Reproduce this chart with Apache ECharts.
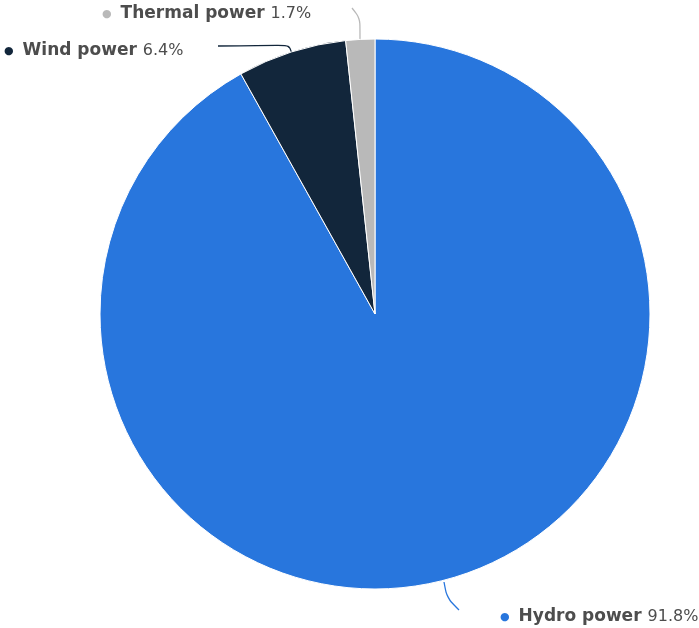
<!DOCTYPE html>
<html>
<head>
<meta charset="utf-8">
<script src="https://cdn.jsdelivr.net/npm/echarts@6/dist/echarts.min.js"></script>
<style>
  html, body { margin: 0; padding: 0; background: #fff; }
  #chart { width: 699px; height: 628px; }
</style>
</head>
<body>
<div id="chart"></div>
<script>
// Electricity generation share by source
const sources = ['Hydro power', 'Wind power', 'Thermal power'];
const shares = [91.8, 6.4, 1.7];
const colors = ['#2876dd', '#12263b', '#b9b9b9'];

// Label placement (left edge, vertical centre) and leader-line guides
const labelSpots = [
  { x: 500, y: 617, line: [[444, 582], [447, 598], [459, 610]] },
  { x: 4, y: 51, line: [[292, 54], [289, 45], [218, 46]] },
  { x: 102, y: 14, line: [[360, 40], [360, 18], [352, 8]] }
];

const chart = echarts.init(document.getElementById('chart'));
const font = '"DejaVu Sans", Verdana, sans-serif';

chart.setOption({
  animation: false,
  series: [{
    type: 'pie',
    center: [375, 314],
    radius: 275,
    startAngle: 90,
    clockwise: true,
    data: sources.map((name, i) => ({
      name: name,
      value: shares[i],
      itemStyle: { color: colors[i] },
      label: {
        rich: {
          dot: { color: colors[i], fontSize: 11, fontFamily: font, padding: [0, 9, 0, 0] }
        }
      },
      labelLine: { lineStyle: { color: colors[i] } }
    })),
    itemStyle: { borderColor: '#fff', borderWidth: 1 },
    label: {
      show: true,
      position: 'outside',
      formatter: p => '{dot|●}{name|' + p.name + '}{val|' + p.value.toFixed(1) + '%}',
      rich: {
        name: { fontFamily: font, fontWeight: 'bold', fontSize: 17, color: '#4d4d4d', padding: [0, 6, 0, 0] },
        val: { fontFamily: font, fontSize: 16, color: '#4d4d4d' }
      }
    },
    labelLine: { show: true, smooth: 0.3, lineStyle: { width: 1.3 } },
    labelLayout: params => {
      const s = labelSpots[params.dataIndex];
      return { x: s.x, y: s.y, align: 'left', verticalAlign: 'middle', labelLinePoints: s.line };
    }
  }]
});
</script>
</body>
</html>
